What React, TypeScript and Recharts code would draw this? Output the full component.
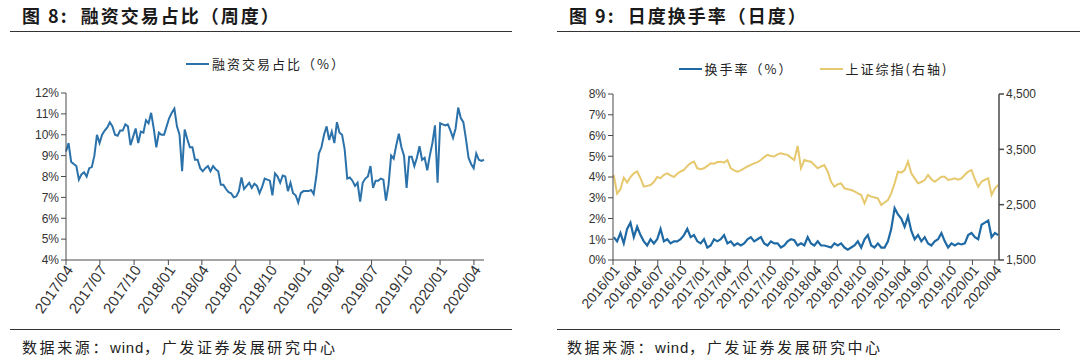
import { LineChart, Line, XAxis, YAxis, Legend } from "recharts";

// 图8：融资交易占比（周度），%
const marginShare = [
  9.2, 9.6, 8.7, 8.6, 8.5, 7.85, 8.1, 8.2, 8.0, 8.4, 8.45, 9.0, 10.0, 9.6, 10.0, 10.2, 10.35, 10.6, 10.4, 10.0,
  9.95, 10.2, 10.2, 10.5, 10.4, 9.5, 9.9, 10.3, 9.6, 10.15, 10.1, 10.7, 10.55, 11.05, 10.3, 9.4, 10.1, 10.0, 10.0, 10.4,
  10.8, 11.05, 11.25, 10.4, 10.0, 8.25, 10.25, 9.8, 9.4, 9.4, 8.8, 8.8, 8.4, 8.25, 8.4, 8.5, 8.25, 8.5, 8.35, 8.25,
  7.6, 7.6, 7.4, 7.25, 7.2, 7.0, 7.05, 7.3, 7.95, 7.4, 7.55, 7.7, 7.45, 7.65, 7.55, 7.2, 7.5, 7.9, 7.85, 7.8,
  7.1, 8.15, 8.0, 7.7, 8.05, 8.0, 7.3, 7.7, 7.2, 7.1, 6.75, 7.2, 7.3, 7.3, 7.3, 7.35, 7.15, 8.0, 9.1, 9.4,
  10.0, 10.4, 9.75, 10.15, 9.6, 10.6, 10.1, 10.0, 9.3, 7.9, 7.95, 7.8, 7.55, 7.7, 6.8, 7.7, 7.9, 8.0, 8.5, 7.45,
  7.8, 7.8, 7.9, 7.85, 6.85, 7.6, 9.0, 8.85, 9.5, 10.05, 9.4, 9.0, 7.45, 8.95, 8.95, 8.5, 8.9, 9.45, 8.8, 8.9,
  8.3, 9.0, 9.6, 10.45, 7.7, 10.55, 10.5, 10.45, 10.5, 10.2, 9.85, 10.3, 11.3, 10.8, 10.6, 9.8, 8.9, 8.6, 8.4, 9.1,
  8.8, 8.75, 8.8,
];
const marginFirstDate = "2017/04/01";
const marginLastDate = "2020/04/28";
const marginTicks = [
  "2017/04", "2017/07", "2017/10", "2018/01", "2018/04", "2018/07", "2018/10",
  "2019/01", "2019/04", "2019/07", "2019/10", "2020/01", "2020/04",
];
const marginYTicks = [4, 5, 6, 7, 8, 9, 10, 11, 12];

// 图9：换手率（%）与上证综指
const turnover = [
  1.1, 0.9, 1.3, 0.8, 1.5, 1.8, 1.1, 1.6, 1.2, 0.9, 0.7, 1.0, 0.8, 1.0, 1.5, 0.9, 1.0, 0.8, 0.9, 0.9,
  1.0, 1.2, 1.5, 1.1, 1.2, 0.9, 0.8, 1.0, 0.6, 0.7, 1.0, 0.9, 1.0, 1.2, 0.8, 0.9, 0.7, 0.8, 0.7, 0.8,
  1.0, 1.1, 0.9, 1.0, 1.1, 0.8, 0.7, 0.9, 0.8, 0.8, 0.6, 0.7, 0.9, 1.0, 0.95, 0.7, 0.8, 0.7, 1.1, 0.8,
  0.7, 0.9, 0.7, 0.7, 0.65, 0.6, 0.8, 0.7, 0.8, 0.6, 0.5, 0.6, 0.7, 0.9, 0.6, 1.0, 1.2, 0.7, 0.6, 0.8,
  0.6, 0.6, 0.9, 1.5, 2.5, 2.2, 2.0, 1.6, 2.1, 1.4, 1.0, 1.2, 0.9, 1.1, 0.8, 0.7, 0.9, 1.0, 1.3, 0.9,
  0.6, 0.8, 0.7, 0.8, 0.75, 0.8, 1.2, 1.3, 1.1, 1.0, 1.7, 1.8, 1.9, 1.1, 1.3, 1.2,
];
const shIndex = [
  3036, 2700, 2780, 2990, 2900, 3000, 3066, 3100, 2980, 2825, 2840, 2855, 2910, 3000, 2980, 3040, 3066, 3030, 3000, 3060,
  3100, 3126, 3200, 3250, 3277, 3157, 3140, 3157, 3200, 3247, 3240, 3270, 3277, 3260, 3307, 3157, 3120, 3096, 3120, 3157,
  3190, 3220, 3247, 3270, 3307, 3360, 3400, 3380, 3370, 3410, 3430, 3410, 3400, 3350, 3307, 3560, 3157, 3307, 3290, 3277,
  3217, 3157, 3190, 3217, 3096, 2915, 2825, 2870, 2885, 2795, 2780, 2765, 2740, 2705, 2675, 2524, 2675, 2645, 2630, 2615,
  2494, 2540, 2584, 2705, 2885, 3096, 3080, 3126, 3277, 3066, 2976, 2885, 2910, 2946, 3036, 2960, 2915, 2960, 3006, 3006,
  2946, 2960, 2976, 2950, 2976, 3040, 3096, 3126, 2960, 2825, 2915, 2950, 2976, 2675, 2795, 2855,
];
const dailyFirstDate = "2016/01/04";
const dailyLastDate = "2020/04/15";
const dailyTicks = [
  "2016/01", "2016/04", "2016/07", "2016/10", "2017/01", "2017/04", "2017/07", "2017/10", "2018/01",
  "2018/04", "2018/07", "2018/10", "2019/01", "2019/04", "2019/07", "2019/10", "2020/01", "2020/04",
];
const turnoverYTicks = [0, 1, 2, 3, 4, 5, 6, 7, 8];
const indexYTicks = [1500, 2500, 3500, 4500];

const CJK = '"Noto Sans CJK SC", "Noto Sans", sans-serif';
const LATIN = '"Liberation Sans", Arial, sans-serif';
const BLUE = "#2C72AA";
const BLUE2 = "#1F6AA4";
const GOLD = "#E6C86E";
const AXIS = "#4a4a4a";

const toTime = (s: string) => {
  const [y, m, d] = s.split("/").map(Number);
  return Date.UTC(y, m - 1, d || 1);
};

// spread the points evenly between the first and last date of each series
const spread = (first: string, last: string, n: number) => {
  const a = toTime(first);
  const b = toTime(last);
  return (i: number) => a + ((b - a) * i) / (n - 1);
};

const marginAt = spread(marginFirstDate, marginLastDate, marginShare.length);
const marginData = marginShare.map((v, i) => ({ t: marginAt(i), share: v }));

const dailyAt = spread(dailyFirstDate, dailyLastDate, turnover.length);
const dailyData = turnover.map((v, i) => ({ t: dailyAt(i), turnover: v, index: shIndex[i] }));

const fmtMonth = (t: number) => {
  const d = new Date(t);
  return `${d.getUTCFullYear()}/${String(d.getUTCMonth() + 1).padStart(2, "0")}`;
};

function SlantTick({ x, y, payload, rot, fs }: any) {
  return (
    <g transform={`translate(${x},${y})`}>
      <text
        x={0}
        y={0}
        dx={2}
        dy={8}
        textAnchor="end"
        fontSize={fs}
        transform={`rotate(${rot})`}
        style={{ fontSize: `${fs}px`, fontFamily: LATIN, fill: "#333" }}
      >
        {fmtMonth(payload.value)}
      </text>
    </g>
  );
}

function LegendRow({ payload, order }: any) {
  const items = [...(payload || [])].sort(
    (a: any, b: any) => order.indexOf(a.value) - order.indexOf(b.value)
  );
  return (
    <div style={{ display: "flex", justifyContent: "center", gap: 26 }}>
      {items.map((p: any) => (
        <div key={p.value} style={{ display: "flex", alignItems: "center" }}>
          <span style={{ width: 23, borderTop: `2.5px solid ${p.color}`, marginRight: 3 }} />
          <span style={{ fontFamily: CJK, fontSize: 13, letterSpacing: 2, color: "#222" }}>{p.value}</span>
        </div>
      ))}
    </div>
  );
}

const titleStyle = {
  position: "absolute" as const,
  top: 2,
  fontFamily: CJK,
  fontWeight: 700,
  fontSize: 18,
  letterSpacing: 2,
  color: "#1a1a1a",
  whiteSpace: "pre" as const,
};

const sourceStyle = {
  position: "absolute" as const,
  top: 336,
  fontFamily: CJK,
  fontSize: 15,
  letterSpacing: 2.6,
  color: "#222",
  whiteSpace: "pre" as const,
};

const rule = (left: number, top: number, width: number) => (
  <div style={{ position: "absolute", left, top, width, borderTop: "1.5px solid #333" }} />
);

const Source = ({ left }: { left: number }) => (
  <div style={{ ...sourceStyle, left }}>
    数据来源：<span style={{ fontFamily: LATIN, letterSpacing: 0.8 }}>wind</span>，广发证券发展研究中心
  </div>
);

export default function App() {
  const tickStyle = { fontSize: 12, fill: "#333", fontFamily: LATIN };
  return (
    <div style={{ position: "absolute", left: 0, top: 0, width: 1080, height: 360, background: "#fff", overflow: "hidden" }}>
      <div style={{ ...titleStyle, left: 22 }}>图 8:  融资交易占比（周度）</div>
      {rule(10, 31, 502)}
      <div style={{ ...titleStyle, left: 569 }}>图 9:  日度换手率（日度）</div>
      {rule(557, 31, 523)}

      <div style={{ position: "absolute", left: 0, top: 40 }}>
        <LineChart width={520} height={280} data={marginData} margin={{ top: 53, right: 36, bottom: 0, left: 26 }}>
          <Legend
            verticalAlign="middle"
            wrapperStyle={{ top: 14, left: 26, width: 480 }}
            content={<LegendRow order={["融资交易占比（%）"]} />}
          />
          <XAxis
            dataKey="t"
            type="number"
            scale="time"
            domain={[toTime(marginTicks[0]), toTime(marginLastDate)]}
            ticks={marginTicks.map(toTime)}
            interval={0}
            height={60}
            stroke={AXIS}
            tickSize={5}
            tick={(p: any) => <SlantTick {...p} rot={-55} fs={15} />}
          />
          <YAxis
            domain={[4, 12]}
            ticks={marginYTicks}
            width={40}
            stroke={AXIS}
            tickSize={5}
            tickFormatter={(v: number) => `${v}%`}
            tick={tickStyle}
          />
          <Line
            dataKey="share"
            name="融资交易占比（%）"
            stroke={BLUE}
            strokeWidth={2}
            dot={false}
            type="linear"
            isAnimationActive={false}
          />
        </LineChart>
      </div>

      <div style={{ position: "absolute", left: 540, top: 40 }}>
        <LineChart width={540} height={280} data={dailyData} margin={{ top: 54, right: 31, bottom: 0, left: 28 }}>
          <Legend
            verticalAlign="middle"
            wrapperStyle={{ top: 19, left: 7, width: 533 }}
            content={<LegendRow order={["换手率（%）", "上证综指(右轴)"]} />}
          />
          <XAxis
            dataKey="t"
            type="number"
            scale="time"
            domain={[toTime(dailyTicks[0]), toTime("2020/04/18")]}
            ticks={dailyTicks.map(toTime)}
            interval={0}
            height={60}
            stroke={AXIS}
            tickSize={5}
            tick={(p: any) => <SlantTick {...p} rot={-50} fs={14} />}
          />
          <YAxis
            yAxisId="left"
            domain={[0, 8]}
            ticks={turnoverYTicks}
            width={45}
            stroke={AXIS}
            tickSize={5}
            tickFormatter={(v: number) => `${v}%`}
            tick={tickStyle}
          />
          <YAxis
            yAxisId="right"
            orientation="right"
            domain={[1500, 4500]}
            ticks={indexYTicks}
            width={50}
            stroke={AXIS}
            strokeWidth={1.5}
            tickSize={5}
            tickFormatter={(v: number) => v.toLocaleString("en-US")}
            tick={tickStyle}
          />
          <Line
            yAxisId="left"
            dataKey="turnover"
            name="换手率（%）"
            stroke={BLUE2}
            strokeWidth={2.2}
            dot={false}
            type="linear"
            isAnimationActive={false}
          />
          <Line
            yAxisId="right"
            dataKey="index"
            name="上证综指(右轴)"
            stroke={GOLD}
            strokeWidth={2}
            dot={false}
            type="linear"
            isAnimationActive={false}
          />
        </LineChart>
      </div>

      {rule(10, 329, 502)}
      <Source left={22} />
      {rule(557, 329, 503)}
      <Source left={567} />
    </div>
  );
}
